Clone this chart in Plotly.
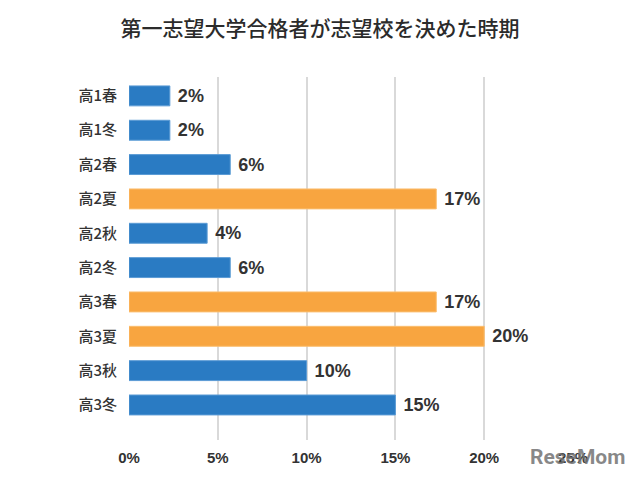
import plotly.graph_objects as go

categories = ["高1春", "高1冬", "高2春", "高2夏", "高2秋", "高2冬", "高3春", "高3夏", "高3秋", "高3冬"]
values = [2.3, 2.3, 5.7, 17.3, 4.4, 5.7, 17.3, 20.0, 10.0, 15.0]
labels = ["2%", "2%", "6%", "17%", "4%", "6%", "17%", "20%", "10%", "15%"]
highlight = [False, False, False, True, False, False, True, True, False, False]
x_ticks = [0, 5, 10, 15, 20, 25]
x_tick_text = ["0%", "5%", "10%", "15%", "20%", "25%"]

BLUE = "#2a7bc3"
BLUE_EDGE = "#5b9bd5"
ORANGE = "#f8a540"
ORANGE_EDGE = "#fbbd6e"

colors = [ORANGE if h else BLUE for h in highlight]
edges = [ORANGE_EDGE if h else BLUE_EDGE for h in highlight]

fig = go.Figure()
fig.add_trace(go.Bar(
    x=values, y=categories, orientation="h",
    marker=dict(color=colors, line=dict(color=edges, width=1)),
    width=0.58,
    text=[" " + t for t in labels],
    textposition="outside",
    cliponaxis=False,
    textfont=dict(family="Liberation Sans, Arial", size=19, color="#333333", weight="bold"),
    hoverinfo="skip",
))

pw = 640 - 129 - 67
ph = 480 - 77 - 40

fig.update_layout(
    width=640, height=480,
    margin=dict(l=129, r=67, t=77, b=40),
    paper_bgcolor="white", plot_bgcolor="white",
    showlegend=False,
    title=dict(
        text="第一志望大学合格者が志望校を決めた時期",
        x=0.5, xanchor="center", y=0.94, yanchor="middle",
        font=dict(family="Noto Sans CJK JP", size=21, color="#2b2b2b", weight=500),
    ),
    xaxis=dict(
        range=[0, 25], tickvals=x_ticks, ticktext=x_tick_text,
        showgrid=True, gridcolor="#d9d9d9", gridwidth=2,
        zeroline=False, showline=False,
        tickfont=dict(family="Liberation Sans, Arial", size=15, color="#333333", weight="bold"),
        ticks="outside", ticklen=4, tickcolor="rgba(0,0,0,0)",
    ),
    yaxis=dict(
        type="category", categoryorder="array", categoryarray=categories,
        range=[10.02, -0.55],
        showgrid=False, zeroline=False, showline=False,
        tickfont=dict(family="Noto Sans CJK JP", size=15, color="#333333", weight=500),
        ticks="outside", ticklen=8, tickcolor="rgba(0,0,0,0)",
    ),
    annotations=[dict(
        text="<b>ReseMom</b>",
        x=(627 - 129) / pw, y=(480 - 40 - 457) / ph,
        xref="paper", yref="paper",
        xanchor="right", yanchor="middle", showarrow=False,
        font=dict(family="Liberation Sans Narrow, Roboto", size=21, color="rgba(115,115,115,0.85)"),
    )],
)
fig.write_html("out.html")
